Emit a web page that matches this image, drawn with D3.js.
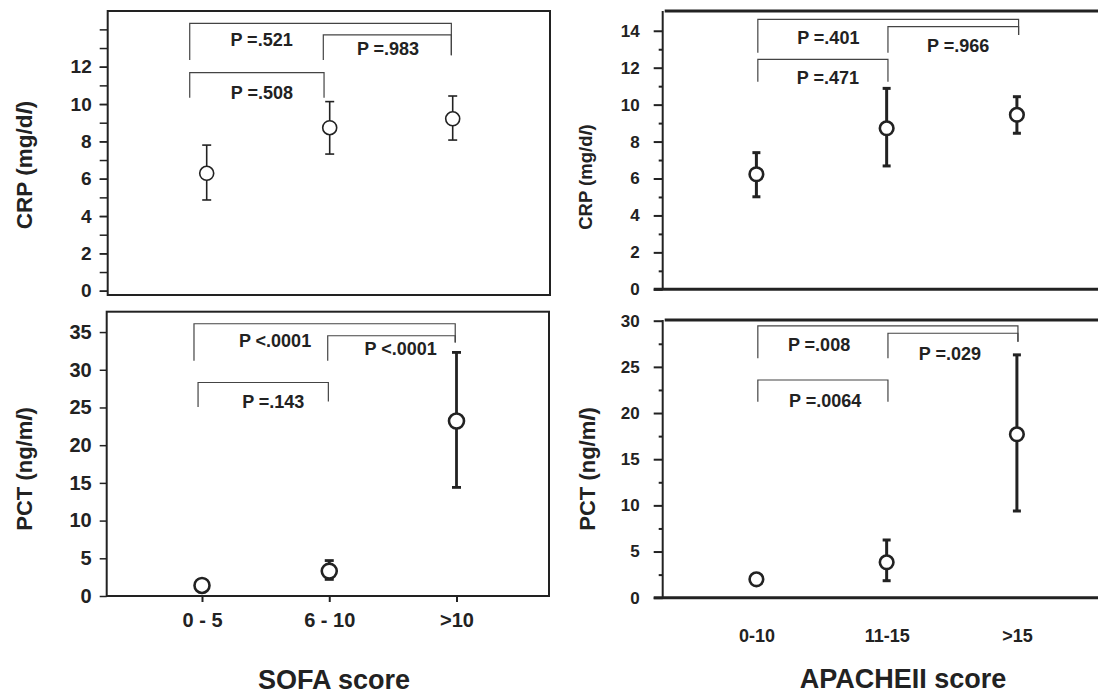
<!DOCTYPE html>
<html><head><meta charset="utf-8">
<script src="https://cdn.jsdelivr.net/npm/d3@7"></script>
<style>
body{margin:0;background:#fff;}
text{font-family:"Liberation Sans",Arial,Helvetica,sans-serif;font-weight:bold;fill:#222;}
</style></head>
<body>
<script>
// ---------- data ----------
const sofaCats = ["0 - 5", "6 - 10", ">10"];
const apacheCats = ["0-10", "11-15", ">15"];

const crpSofaMean = [6.29, 8.73, 9.21];
const crpSofaLow  = [4.86, 7.32, 8.07];
const crpSofaHigh = [7.80, 10.13, 10.43];

const pctSofaMean = [1.4, 3.3, 23.2];
const pctSofaLow  = [0.7, 2.2, 14.4];
const pctSofaHigh = [2.2, 4.7, 32.3];

const crpApacheMean = [6.23, 8.72, 9.45];
const crpApacheLow  = [5.01, 6.68, 8.45];
const crpApacheHigh = [7.40, 10.88, 10.43];

const pctApacheMean = [1.99, 3.83, 17.7];
const pctApacheLow  = [1.7, 1.84, 9.39];
const pctApacheHigh = [2.3, 6.25, 26.3];

const crpSofaTicks = [0, 2, 4, 6, 8, 10, 12];
const crpSofaMinor = d3.range(0, 15, 1);
const pctSofaTicks = [0, 5, 10, 15, 20, 25, 30, 35];
const crpApacheTicks = [0, 2, 4, 6, 8, 10, 12, 14];
const crpApacheMinor = d3.range(1, 15, 2);
const pctApacheTicks = [0, 5, 10, 15, 20, 25, 30];
const pctApacheMinor = [2.5, 7.5, 12.5, 17.5, 22.5, 27.5];

// significance brackets: from/to in category-index units, y values in data units
const crpSofaBrackets = [
  {from: -0.138, to: 1.989, y: 14.32, l: 12.36, r: 12.62, label: "P =.521", tx: 0.446, ty: 13.43},
  {from: 0.948, to: 1.989, y: 13.71, l: 12.36, r: 12.62, label: "P =.983", tx: 1.474, ty: 12.98},
  {from: -0.138, to: 0.954, y: 11.68, l: 10.34, r: 10.34, label: "P =.508", tx: 0.449, ty: 10.61}
];
const pctSofaBrackets = [
  {from: -0.063, to: 1.99, y: 36.1, l: 31.19, r: 33.62, label: "P <.0001", tx: 0.574, ty: 33.89},
  {from: 0.988, to: 1.99, y: 34.51, l: 31.19, r: 33.62, label: "P <.0001", tx: 1.561, ty: 32.78},
  {from: -0.031, to: 0.993, y: 28.31, l: 25.05, r: 25.79, label: "P =.143", tx: 0.560, ty: 25.79}
];
const crpApacheBrackets = [
  {from: 0.011, to: 2.013, y: 14.62, l: 12.81, r: 13.77, label: "P =.401", tx: 0.552, ty: 13.64},
  {from: 1.010, to: 2.013, y: 14.22, l: 12.81, r: 13.77, label: "P =.966", tx: 1.549, ty: 13.19},
  {from: 0.011, to: 1.010, y: 12.45, l: 11.24, r: 11.24, label: "P =.471", tx: 0.549, ty: 11.48}
];
const pctApacheBrackets = [
  {from: 0.011, to: 2.008, y: 29.43, l: 25.93, r: 27.73, label: "P =.008", tx: 0.481, ty: 27.37},
  {from: 1.010, to: 2.008, y: 28.64, l: 25.93, r: 27.73, label: "P =.029", tx: 1.486, ty: 26.47},
  {from: 0.011, to: 1.010, y: 23.58, l: 21.23, r: 21.23, label: "P =.0064", tx: 0.528, ty: 21.34}
];

// ---------- drawing ----------
const svg = d3.select("body").append("svg").attr("width", 1098).attr("height", 697);

function drawPanel(c) {
  const x = d3.scaleLinear().domain([0, 2]).range(c.xr);
  const y = d3.scaleLinear().domain(c.yd).range(c.yr);
  const g = svg.append("g");

  // frame
  if (c.box) {
    g.append("rect").attr("x", c.left).attr("y", c.top)
      .attr("width", c.right - c.left).attr("height", c.bottom - c.top)
      .attr("fill", "none").attr("stroke", "#222").attr("stroke-width", 2);
  } else {
    g.append("line").attr("x1", c.left + 2).attr("x2", c.right).attr("y1", c.top).attr("y2", c.top)
      .attr("stroke", "#222").attr("stroke-width", 3);
    g.append("line").attr("x1", c.left).attr("x2", c.left).attr("y1", c.top).attr("y2", c.bottom)
      .attr("stroke", "#222").attr("stroke-width", 2);
    g.append("line").attr("x1", c.left - c.tick).attr("x2", c.right).attr("y1", c.bottom).attr("y2", c.bottom)
      .attr("stroke", "#222").attr("stroke-width", 3);
  }

  // minor ticks
  if (c.minor) {
    const mg = g.append("g").attr("transform", `translate(${c.left},0)`)
      .call(d3.axisLeft(y).tickValues(c.minor).tickSize(c.minorTick).tickFormat(""));
    mg.select(".domain").remove();
    mg.selectAll("line").attr("stroke", "#222").attr("stroke-width", c.tickW);
  }
  // major ticks & labels
  const ag = g.append("g").attr("transform", `translate(${c.left},0)`)
    .call(d3.axisLeft(y).tickValues(c.ticks).tickSize(c.tick).tickPadding(c.pad).tickFormat(d3.format("d")));
  ag.select(".domain").remove();
  ag.selectAll("line").attr("stroke", "#222").attr("stroke-width", c.tickW);
  ag.selectAll("text").attr("font-size", c.tickFont).attr("font-family", null).attr("fill", "#222");

  // x axis labels
  if (c.xLabels) {
    const xg = g.append("g").attr("transform", `translate(0,${c.bottom})`)
      .call(d3.axisBottom(x).tickValues([0, 1, 2]).tickSize(c.xTick).tickPadding(c.xPad)
        .tickFormat(i => c.cats[i]));
    xg.select(".domain").remove();
    xg.selectAll("line").attr("stroke", "#222").attr("stroke-width", 2);
    xg.selectAll("text").attr("font-size", c.xFont).attr("font-family", null).attr("fill", "#222");
  }

  // y title
  const t = g.append("text")
    .attr("transform", `translate(${c.titleX},${c.titleY}) rotate(-90)`)
    .attr("text-anchor", "middle").attr("dy", "0.35em").attr("font-size", c.titleFont);
  t.append("tspan").text(c.titleA);
  t.append("tspan").attr("font-style", "italic").text("l");
  t.append("tspan").text(")");

  // brackets
  g.selectAll(".br").data(c.brackets).join("path")
    .attr("d", b => `M${x(b.from)},${y(b.l)}V${y(b.y)}H${x(b.to)}V${y(b.r)}`)
    .attr("fill", "none").attr("stroke", "#444").attr("stroke-width", 1.2);
  g.selectAll(".bt").data(c.brackets).join("text")
    .attr("x", b => x(b.tx)).attr("y", b => y(b.ty)).attr("dy", "0.35em")
    .attr("text-anchor", "middle").attr("font-size", c.pFont).text(b => b.label);

  // error bars
  const idx = [0, 1, 2];
  g.selectAll(".eb").data(idx).join("line")
    .attr("x1", i => x(i)).attr("x2", i => x(i))
    .attr("y1", i => y(c.low[i])).attr("y2", i => y(c.high[i]))
    .attr("stroke", "#222").attr("stroke-width", c.barW);
  ["low", "high"].forEach(k => {
    g.selectAll(".cap" + k).data(idx).join("line")
      .attr("x1", i => x(i) - c.cap).attr("x2", i => x(i) + c.cap)
      .attr("y1", i => y(c[k][i])).attr("y2", i => y(c[k][i]))
      .attr("stroke", "#222").attr("stroke-width", c.barW);
  });
  g.selectAll(".pt").data(idx).join("circle")
    .attr("cx", i => x(i)).attr("cy", i => y(c.mean[i])).attr("r", c.r)
    .attr("fill", "#fff").attr("stroke", "#222").attr("stroke-width", c.ptW);
}

drawPanel({
  box: true, left: 107.7, right: 550, top: 11, bottom: 295,
  xr: [206.7, 452.7], yd: [0, 15], yr: [290.7, 10.7],
  ticks: crpSofaTicks, minor: crpSofaMinor, tick: 8, minorTick: 8, pad: 8, tickW: 1.5, tickFont: 19,
  xLabels: false, cats: sofaCats,
  titleX: 24, titleY: 165, titleFont: 22.5, titleA: "CRP (mg/d",
  brackets: crpSofaBrackets, pFont: 18,
  mean: crpSofaMean, low: crpSofaLow, high: crpSofaHigh,
  r: 7, ptW: 1.6, barW: 1.6, cap: 4.5
});
drawPanel({
  box: true, left: 106.7, right: 549, top: 311.7, bottom: 596,
  xr: [202, 456.5], yd: [0, 37.7], yr: [596, 311.7],
  ticks: pctSofaTicks, minor: null, tick: 7, minorTick: 0, pad: 8, tickW: 1.5, tickFont: 20,
  xLabels: true, cats: sofaCats, xTick: 6, xPad: 11, xFont: 20,
  titleX: 24, titleY: 469, titleFont: 22, titleA: "PCT (ng/m",
  brackets: pctSofaBrackets, pFont: 18,
  mean: pctSofaMean, low: pctSofaLow, high: pctSofaHigh,
  r: 7.5, ptW: 2.6, barW: 2.8, cap: 4.5
});
drawPanel({
  box: false, left: 662.7, right: 1110, top: 11, bottom: 289.3,
  xr: [756.4, 1016.9], yd: [0, 15], yr: [289.3, 12.3],
  ticks: crpApacheTicks, minor: crpApacheMinor, tick: 9, minorTick: 4, pad: 14, tickW: 2, tickFont: 17,
  xLabels: false, cats: apacheCats,
  titleX: 586, titleY: 177, titleFont: 18.5, titleA: "CRP (mg/d",
  brackets: crpApacheBrackets, pFont: 18,
  mean: crpApacheMean, low: crpApacheLow, high: crpApacheHigh,
  r: 6.8, ptW: 2.6, barW: 3, cap: 4
});
drawPanel({
  box: false, left: 662.7, right: 1110, top: 320, bottom: 597.7,
  xr: [756.4, 1016.9], yd: [0, 30], yr: [597.7, 320.7],
  ticks: pctApacheTicks, minor: pctApacheMinor, tick: 9, minorTick: 4, pad: 14, tickW: 2, tickFont: 17,
  xLabels: true, cats: apacheCats, xTick: 0, xPad: 32, xFont: 18,
  titleX: 587, titleY: 469, titleFont: 22, titleA: "PCT (ng/m",
  brackets: pctApacheBrackets, pFont: 18,
  mean: pctApacheMean, low: pctApacheLow, high: pctApacheHigh,
  r: 6.8, ptW: 2.6, barW: 3, cap: 4
});

// x-axis titles
svg.append("text").attr("x", 334).attr("y", 689).attr("text-anchor", "middle")
  .attr("font-size", 27).text("SOFA score");
svg.append("text").attr("x", 903).attr("y", 688).attr("text-anchor", "middle")
  .attr("font-size", 27).text("APACHEII score");
</script>
</body></html>
